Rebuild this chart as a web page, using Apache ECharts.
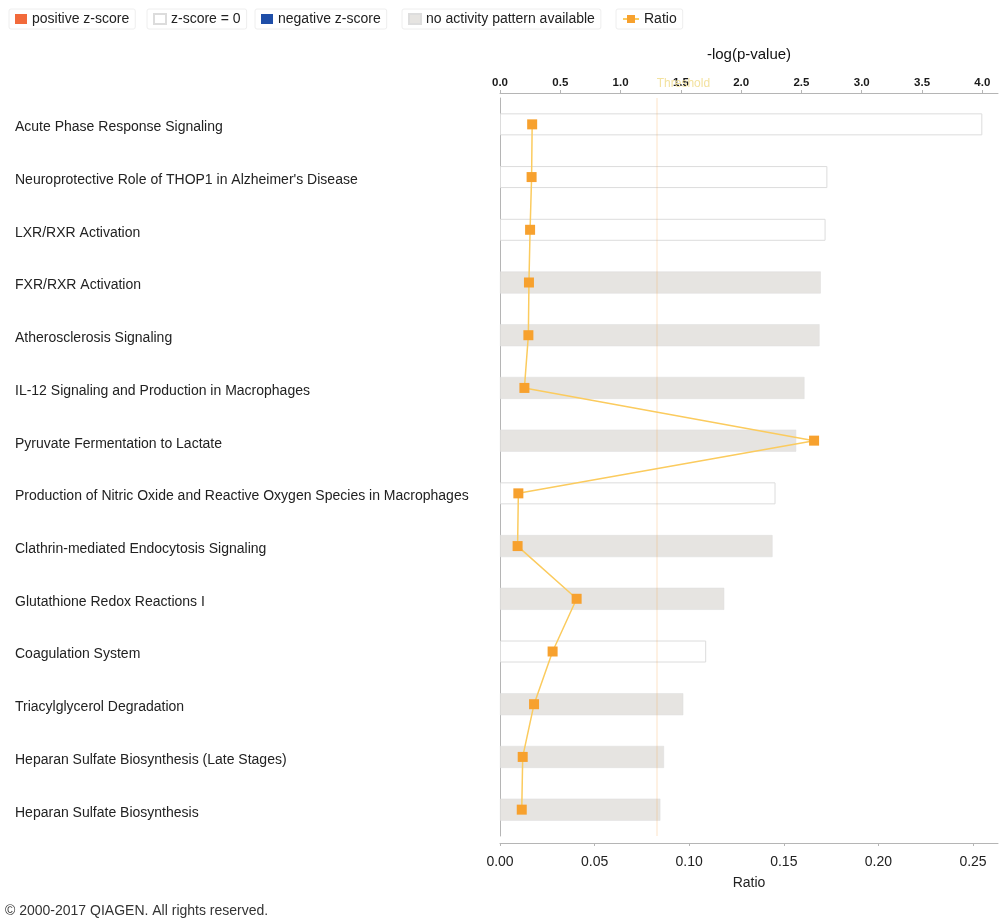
<!DOCTYPE html>
<html>
<head>
<meta charset="utf-8">
<script src="https://cdn.jsdelivr.net/npm/echarts@6/dist/echarts.min.js"></script>
<style>
html,body{margin:0;padding:0;background:#fff;}
#chart{width:1004px;height:924px;}
</style>
</head>
<body>
<div id="chart"></div>
<script>
const categories = [
  "Acute Phase Response Signaling",
  "Neuroprotective Role of THOP1 in Alzheimer's Disease",
  "LXR/RXR Activation",
  "FXR/RXR Activation",
  "Atherosclerosis Signaling",
  "IL-12 Signaling and Production in Macrophages",
  "Pyruvate Fermentation to Lactate",
  "Production of Nitric Oxide and Reactive Oxygen Species in Macrophages",
  "Clathrin-mediated Endocytosis Signaling",
  "Glutathione Redox Reactions I",
  "Coagulation System",
  "Triacylglycerol Degradation",
  "Heparan Sulfate Biosynthesis (Late Stages)",
  "Heparan Sulfate Biosynthesis"
];
const negLogP = [4.0, 2.715, 2.70, 2.66, 2.65, 2.525, 2.456, 2.285, 2.26, 1.86, 1.71, 1.52, 1.36, 1.33];
const zStatus = ["zero","zero","zero","none","none","none","none","zero","none","none","zero","none","none","none"];
const ratio = [0.0170, 0.0167, 0.0159, 0.0153, 0.0150, 0.0129, 0.1660, 0.0097, 0.0093, 0.0405, 0.0278, 0.0180, 0.0120, 0.0115];
const threshold = 1.3;
const legendNames = ["positive z-score", "z-score = 0", "negative z-score", "no activity pattern available", "Ratio"];

const pick = (status) => negLogP.map((v, i) => zStatus[i] === status ? v : null);

const chart = echarts.init(document.getElementById('chart'), null, {renderer: 'canvas'});
const FONT = 'Liberation Sans';
const legendLefts = [9, 147, 255, 402, 616];
const legendWidths = [12, 12, 12, 12, 16];

const barBase = {
  type: 'bar', xAxisIndex: 0, yAxisIndex: 0, barWidth: 22, barGap: '-100%'
};

chart.setOption({
  animation: false,
  backgroundColor: '#ffffff',
  textStyle: {fontFamily: FONT},
  legend: legendNames.map((n, i) => {
    const lg = {
      data: [n], left: legendLefts[i], top: 9,
      itemWidth: legendWidths[i], itemHeight: 10, itemGap: 0,
      padding: [3, 6], borderColor: '#eeeeee', borderWidth: 1, borderRadius: 2,
      selectedMode: false,
      textStyle: {fontFamily: FONT, fontSize: 14, color: '#222'}
    };
    if (i < 4) lg.icon = 'rect';
    return lg;
  }),
  grid: {left: 500, right: 6, top: 98, bottom: 88, containLabel: false},
  xAxis: [
    {
      type: 'value', position: 'top', min: 0, max: 4.13, interval: 0.5, offset: 5,
      name: '-log(p-value)', nameLocation: 'middle', nameGap: 31,
      nameTextStyle: {fontFamily: FONT, fontSize: 15, color: '#111'},
      axisLine: {show: true, lineStyle: {color: '#b5b5b5', width: 1}},
      axisTick: {show: true, length: 3, lineStyle: {color: '#b5b5b5'}},
      axisLabel: {showMaxLabel: false, margin: 4, fontFamily: FONT, fontSize: 11.5, fontWeight: 'bold', color: '#1a1a1a',
        formatter: v => v.toFixed(1)},
      splitLine: {show: false}
    },
    {
      type: 'value', position: 'bottom', min: 0, max: 0.2632, interval: 0.05, offset: 7,
      name: 'Ratio', nameLocation: 'middle', nameGap: 33,
      nameTextStyle: {fontFamily: FONT, fontSize: 14, color: '#222'},
      axisLine: {show: true, lineStyle: {color: '#b5b5b5', width: 1}},
      axisTick: {show: true, length: 3, lineStyle: {color: '#b5b5b5'}},
      axisLabel: {showMaxLabel: false, margin: 12, fontFamily: FONT, fontSize: 14, color: '#222',
        formatter: v => v.toFixed(2)},
      splitLine: {show: false}
    }
  ],
  yAxis: {
    type: 'category', data: categories, inverse: true,
    axisLine: {show: true, lineStyle: {color: '#b5b5b5'}},
    axisTick: {show: false},
    axisLabel: {align: 'left', margin: 485, fontFamily: FONT, fontSize: 14, color: '#222',
      verticalAlign: 'top', lineHeight: 6},
    splitLine: {show: false}
  },
  series: [
    Object.assign({}, barBase, {
      name: 'positive z-score', data: negLogP.map(() => null),
      itemStyle: {color: '#f26a3b'}
    }),
    Object.assign({}, barBase, {
      name: 'z-score = 0', data: pick('zero'),
      itemStyle: {color: '#ffffff', borderColor: '#dcdcdc', borderWidth: 1}
    }),
    Object.assign({}, barBase, {
      name: 'negative z-score', data: negLogP.map(() => null),
      itemStyle: {color: '#1f4ea8'}
    }),
    Object.assign({}, barBase, {
      name: 'no activity pattern available', data: pick('none'),
      itemStyle: {color: '#e6e4e1', borderColor: '#dddddd', borderWidth: 0.5},
      markLine: {
        silent: true, symbol: 'none', animation: false,
        data: [{xAxis: threshold}],
        lineStyle: {color: 'rgba(250,165,70,0.2)', type: 'solid', width: 1.5},
        label: {show: true, formatter: 'Threshold', position: 'start', align: 'left', color: '#f3e2a0',
          fontFamily: FONT, fontSize: 12, distance: 8}
      }
    }),
    {
      name: 'Ratio', type: 'line', xAxisIndex: 1, yAxisIndex: 0, data: ratio,
      symbol: 'rect', symbolSize: 10,
      lineStyle: {color: '#fbcb5e', width: 1.5},
      itemStyle: {color: '#f7a12e'},
      z: 5
    }
  ],
  graphic: [{
    type: 'text', left: 5, top: 904,
    style: {text: '\u00a9 2000-2017 QIAGEN. All rights reserved.', font: '14px "Liberation Sans"', fill: '#333'}
  }]
});
</script>
</body>
</html>
